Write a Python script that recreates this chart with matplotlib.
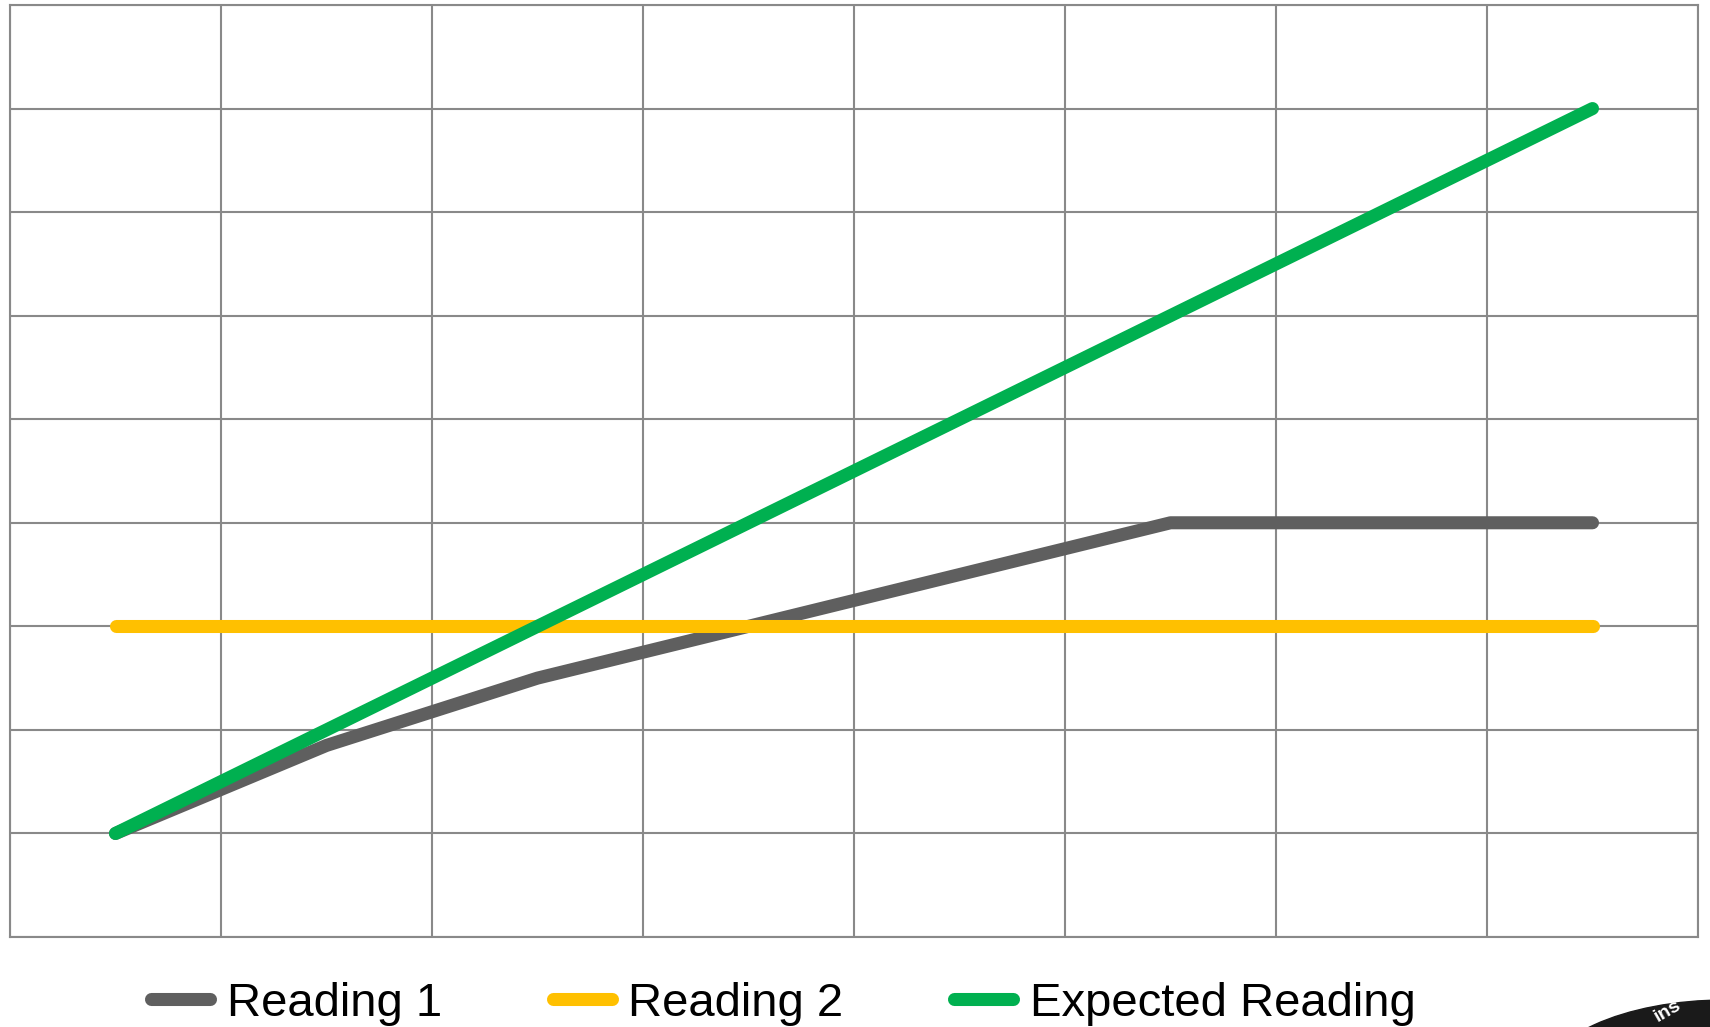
import matplotlib
matplotlib.use("Agg")
import matplotlib.pyplot as plt
from matplotlib.patches import Ellipse

plt.rcParams['font.family'] = ['Liberation Sans', 'DejaVu Sans']

# data
x_pos = [0.5, 1.5, 2.5, 3.5, 4.5, 5.5, 6.5, 7.5]
reading1 = [1, 1.85, 2.5, 3, 3.5, 4, 4, 4]
reading2 = [3, 3, 3, 3, 3, 3, 3, 3]
expected = [1, 2, 3, 4, 5, 6, 7, 8]
labels = ["Reading 1", "Reading 2", "Expected Reading"]
colors = ["#5f5f5f", "#ffc000", "#00b050"]

W, H = 1710, 1027
fig = plt.figure(figsize=(W / 100, H / 100), dpi=100)
ax = fig.add_axes([10 / W, (H - 937) / H, 1688 / W, 932 / H])

lw = 9.4
for vals, lab, col in zip([reading1, reading2, expected], labels, colors):
    ax.plot(x_pos, vals, color=col, lw=lw, label=lab,
            solid_capstyle='round', solid_joinstyle='round', zorder=3)

ax.set_xlim(0, 8)
ax.set_ylim(0, 9)
ax.set_xticks(range(0, 9))
ax.set_yticks(range(0, 10))
ax.tick_params(length=0, labelleft=False, labelbottom=False)
ax.grid(True, color="#898989", lw=1.5)
for s in ax.spines.values():
    s.set_color("#898989")
    s.set_linewidth(1.5)

fig.legend(loc='center left', bbox_to_anchor=(151 / W, 23 / H), ncol=3,
           frameon=False, fontsize=34, handlelength=1.25, handletextpad=0.35,
           columnspacing=2.35, borderpad=0, borderaxespad=0)

# partial logo in the corner
fig.patches.append(Ellipse((1725 / W, 1 - 1085 / H), 370 / W, 170 / H,
                           transform=fig.transFigure, color="#1a1a1a"))
fig.text(1668 / W, 1 - 1011 / H, "ins", color="white", fontsize=14,
         fontweight="bold", rotation=30, ha="center", va="center")

fig.savefig("out.png", dpi=100)
